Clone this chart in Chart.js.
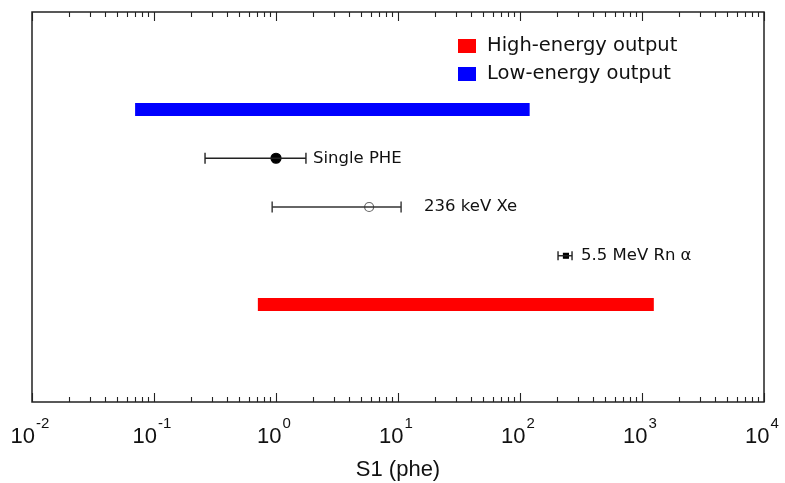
<!DOCTYPE html>
<html><head><meta charset="utf-8">
<script src="https://cdn.jsdelivr.net/npm/chart.js@4"></script>
<style>html,body{margin:0;padding:0;background:#fff}</style></head>
<body><canvas id="c" width="785" height="483"></canvas>
<script>
// ---- data ----
const rangeNames = ['Low-energy output', 'High-energy output'];
const rangeLow = [0.07, 0.71];
const rangeHigh = [120, 1250];
const rangeRow = [6, 2];
const rangeColors = ['#0000ff', '#ff0000'];
const legendOrder = [1, 0];

const pointNames = ['Single PHE', '236 keV Xe', '5.5 MeV Rn α'];
const pointValue = [1.0, 5.8, 238];
const pointErrLow = [0.262, 0.93, 205];
const pointErrHigh = [1.76, 10.6, 267];
const pointRow = [5, 4, 3];

const decadeExponents = [-2, -1, 0, 1, 2, 3, 4];
const xTitle = 'S1 (phe)';

// ---- datasets ----
const datasets = [];
rangeNames.forEach((n, i) => {
  datasets.push({
    type: 'line', label: n,
    data: [{x: rangeLow[i], y: rangeRow[i]}, {x: rangeHigh[i], y: rangeRow[i]}],
    borderColor: rangeColors[i], borderWidth: 13, borderCapStyle: 'butt',
    pointRadius: 0, fill: false
  });
});
const markerStyle = [
  {style: 'circle', r: 5, bg: '#000', bc: '#000', line: '#222'},
  {style: 'circle', r: 4.5, bg: '#fff', bc: '#666', line: '#333'},
  {style: 'rect', r: 3.5, bg: '#000', bc: '#000', line: '#222'}
];
pointNames.forEach((n, i) => {
  const m = markerStyle[i];
  datasets.push({
    type: 'line', label: n + ' err',
    data: [{x: pointErrLow[i], y: pointRow[i]}, {x: pointErrHigh[i], y: pointRow[i]}],
    borderColor: m.line, borderWidth: 1.4,
    pointStyle: 'line', rotation: 90, pointRadius: i === 2 ? 4.5 : 5.5,
    pointBorderColor: m.line, pointBorderWidth: 1.4, fill: false
  });
  datasets.push({
    type: 'scatter', label: n,
    data: [{x: pointValue[i], y: pointRow[i]}],
    pointStyle: m.style, pointRadius: m.r,
    backgroundColor: m.bg, borderColor: m.bc, borderWidth: 1.2
  });
});

const decor = {
  id: 'decor',
  afterDraw(chart) {
    const ctx = chart.ctx, a = chart.chartArea, xs = chart.scales.x, ys = chart.scales.y;
    ctx.save();
    // box
    ctx.strokeStyle = '#222'; ctx.lineWidth = 1.5;
    ctx.strokeRect(a.left, a.top, a.right - a.left, a.bottom - a.top);
    // ticks
    ctx.lineWidth = 1.1;
    decadeExponents.forEach((e, k) => {
      const base = Math.pow(10, e);
      const mults = k < decadeExponents.length - 1 ? [1,2,3,4,5,6,7,8,9] : [1];
      mults.forEach(m => {
        const px = Math.round(xs.getPixelForValue(base * m)) + 0.5;
        const len = m === 1 ? 9 : 5;
        ctx.beginPath();
        ctx.moveTo(px, a.bottom); ctx.lineTo(px, a.bottom - len);
        ctx.moveTo(px, a.top); ctx.lineTo(px, a.top + len);
        ctx.stroke();
      });
    });
    // tick labels
    ctx.fillStyle = '#111';
    ctx.textBaseline = 'alphabetic';
    const bigF = '22px "Liberation Sans", Arial, sans-serif';
    const smallF = '15px "Liberation Sans", Arial, sans-serif';
    decadeExponents.forEach(e => {
      const px = xs.getPixelForValue(Math.pow(10, e));
      ctx.font = bigF;
      const w1 = ctx.measureText('10').width;
      ctx.font = smallF;
      const ex = String(e);
      const w2 = ctx.measureText(ex).width;
      const x0 = px - (w1 + w2 + 1) / 2 - 2;
      ctx.font = bigF;
      ctx.textAlign = 'left';
      ctx.fillText('10', x0, 443);
      ctx.font = smallF;
      ctx.fillText(ex, x0 + w1 + 1, 428);
    });
    // axis title
    ctx.font = '22px "Liberation Sans", Arial, sans-serif';
    ctx.textAlign = 'center';
    ctx.fillText(xTitle, (a.left + a.right) / 2, 476);
    // annotations
    ctx.font = '16.5px "DejaVu Sans", sans-serif';
    ctx.textAlign = 'left'; ctx.textBaseline = 'middle';
    const gaps = [7, 23, 9];
    pointNames.forEach((n, i) => {
      const px = xs.getPixelForValue(pointErrHigh[i]) + gaps[i];
      const py = ys.getPixelForValue(pointRow[i]);
      ctx.fillText(n, px, py);
    });
    // legend
    ctx.font = '19.5px "DejaVu Sans", sans-serif';
    legendOrder.forEach((idx, j) => {
      const cy = 46 + j * 28;
      ctx.fillStyle = rangeColors[idx];
      ctx.fillRect(458, cy - 7, 18, 14);
      ctx.fillStyle = '#111';
      ctx.fillText(rangeNames[idx], 487, cy);
    });
    ctx.restore();
  }
};

new Chart(document.getElementById('c'), {
  type: 'scatter',
  data: {datasets},
  options: {
    responsive: false, animation: false, devicePixelRatio: 1,
    layout: {padding: {left: 32, right: 21, top: 12, bottom: 81}},
    plugins: {legend: {display: false}, tooltip: {enabled: false}},
    scales: {
      x: {type: 'logarithmic', min: 0.01, max: 10000, display: false},
      y: {type: 'linear', min: 0, max: 8, display: false}
    }
  },
  plugins: [decor]
});
</script></body></html>
